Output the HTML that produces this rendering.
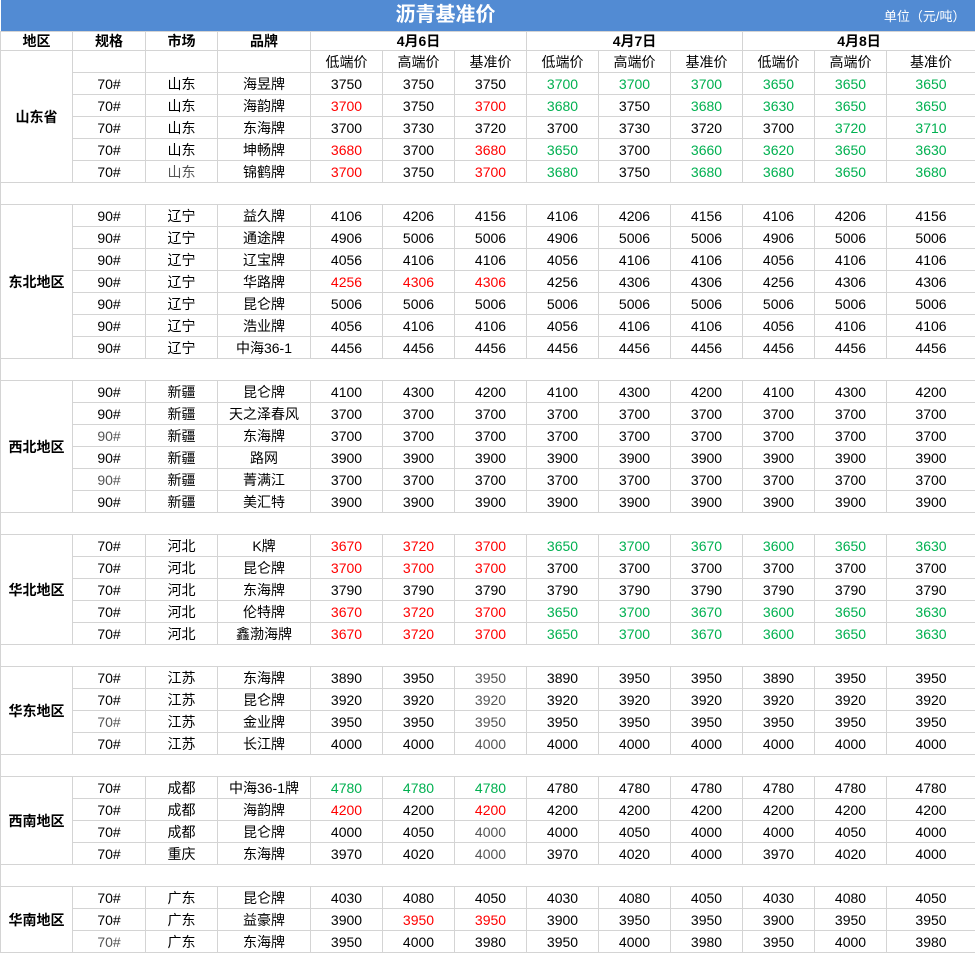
<!DOCTYPE html>
<html><head><meta charset="utf-8"><style>
body{margin:0;background:#fff;width:975px;height:953px;overflow:hidden}
table{border-collapse:collapse;table-layout:fixed;width:975px;font-family:"Liberation Sans","Microsoft YaHei","Noto Sans CJK SC",sans-serif;font-size:14px;color:#000}
td{border:1px solid #d4d4d4;text-align:center;padding:0;height:21px;line-height:20px;white-space:nowrap;overflow:hidden}
.t td{background:#528bd3;color:#fff;border:none;height:31px;position:relative}
.h td{font-weight:bold;height:18px;line-height:18px}
.b td{height:21px}
.reg{font-weight:bold}
.r{color:#ff0000}.g{color:#00b050}.m{color:#555}
</style></head><body>
<table>
<colgroup><col style="width:72px"><col style="width:73px"><col style="width:72px"><col style="width:93px"><col style="width:72px"><col style="width:72px"><col style="width:72px"><col style="width:72px"><col style="width:72px"><col style="width:72px"><col style="width:72px"><col style="width:72px"><col style="width:89px"></colgroup>
<tr class="t"><td colspan="13"><span style="position:absolute;left:0;width:890px;top:0;line-height:31px;font-size:20px;font-weight:bold;text-align:center">沥青基准价</span><span style="position:absolute;right:10px;top:0;line-height:34px;font-size:13px">单位（元/吨）</span></td></tr>
<tr class="h"><td>地区</td><td>规格</td><td>市场</td><td>品牌</td><td colspan="3">4月6日</td><td colspan="3">4月7日</td><td colspan="3">4月8日</td></tr>
<tr><td rowspan="6" class="reg">山东省</td><td></td><td></td><td></td><td>低端价</td><td>高端价</td><td>基准价</td><td>低端价</td><td>高端价</td><td>基准价</td><td>低端价</td><td>高端价</td><td>基准价</td></tr>
<tr><td>70#</td><td>山东</td><td>海昱牌</td><td>3750</td><td>3750</td><td>3750</td><td class="g">3700</td><td class="g">3700</td><td class="g">3700</td><td class="g">3650</td><td class="g">3650</td><td class="g">3650</td></tr>
<tr><td>70#</td><td>山东</td><td>海韵牌</td><td class="r">3700</td><td>3750</td><td class="r">3700</td><td class="g">3680</td><td>3750</td><td class="g">3680</td><td class="g">3630</td><td class="g">3650</td><td class="g">3650</td></tr>
<tr><td>70#</td><td>山东</td><td>东海牌</td><td>3700</td><td>3730</td><td>3720</td><td>3700</td><td>3730</td><td>3720</td><td>3700</td><td class="g">3720</td><td class="g">3710</td></tr>
<tr><td>70#</td><td>山东</td><td>坤畅牌</td><td class="r">3680</td><td>3700</td><td class="r">3680</td><td class="g">3650</td><td>3700</td><td class="g">3660</td><td class="g">3620</td><td class="g">3650</td><td class="g">3630</td></tr>
<tr><td>70#</td><td class="m">山东</td><td>锦鹤牌</td><td class="r">3700</td><td>3750</td><td class="r">3700</td><td class="g">3680</td><td>3750</td><td class="g">3680</td><td class="g">3680</td><td class="g">3650</td><td class="g">3680</td></tr>
<tr class="b"><td colspan="13"></td></tr>
<tr><td rowspan="7" class="reg">东北地区</td><td>90#</td><td>辽宁</td><td>益久牌</td><td>4106</td><td>4206</td><td>4156</td><td>4106</td><td>4206</td><td>4156</td><td>4106</td><td>4206</td><td>4156</td></tr>
<tr><td>90#</td><td>辽宁</td><td>通途牌</td><td>4906</td><td>5006</td><td>5006</td><td>4906</td><td>5006</td><td>5006</td><td>4906</td><td>5006</td><td>5006</td></tr>
<tr><td>90#</td><td>辽宁</td><td>辽宝牌</td><td>4056</td><td>4106</td><td>4106</td><td>4056</td><td>4106</td><td>4106</td><td>4056</td><td>4106</td><td>4106</td></tr>
<tr><td>90#</td><td>辽宁</td><td>华路牌</td><td class="r">4256</td><td class="r">4306</td><td class="r">4306</td><td>4256</td><td>4306</td><td>4306</td><td>4256</td><td>4306</td><td>4306</td></tr>
<tr><td>90#</td><td>辽宁</td><td>昆仑牌</td><td>5006</td><td>5006</td><td>5006</td><td>5006</td><td>5006</td><td>5006</td><td>5006</td><td>5006</td><td>5006</td></tr>
<tr><td>90#</td><td>辽宁</td><td>浩业牌</td><td>4056</td><td>4106</td><td>4106</td><td>4056</td><td>4106</td><td>4106</td><td>4056</td><td>4106</td><td>4106</td></tr>
<tr><td>90#</td><td>辽宁</td><td>中海36-1</td><td>4456</td><td>4456</td><td>4456</td><td>4456</td><td>4456</td><td>4456</td><td>4456</td><td>4456</td><td>4456</td></tr>
<tr class="b"><td colspan="13"></td></tr>
<tr><td rowspan="6" class="reg">西北地区</td><td>90#</td><td>新疆</td><td>昆仑牌</td><td>4100</td><td>4300</td><td>4200</td><td>4100</td><td>4300</td><td>4200</td><td>4100</td><td>4300</td><td>4200</td></tr>
<tr><td>90#</td><td>新疆</td><td>天之泽春风</td><td>3700</td><td>3700</td><td>3700</td><td>3700</td><td>3700</td><td>3700</td><td>3700</td><td>3700</td><td>3700</td></tr>
<tr><td class="m">90#</td><td>新疆</td><td>东海牌</td><td>3700</td><td>3700</td><td>3700</td><td>3700</td><td>3700</td><td>3700</td><td>3700</td><td>3700</td><td>3700</td></tr>
<tr><td>90#</td><td>新疆</td><td>路网</td><td>3900</td><td>3900</td><td>3900</td><td>3900</td><td>3900</td><td>3900</td><td>3900</td><td>3900</td><td>3900</td></tr>
<tr><td class="m">90#</td><td>新疆</td><td>菁满江</td><td>3700</td><td>3700</td><td>3700</td><td>3700</td><td>3700</td><td>3700</td><td>3700</td><td>3700</td><td>3700</td></tr>
<tr><td>90#</td><td>新疆</td><td>美汇特</td><td>3900</td><td>3900</td><td>3900</td><td>3900</td><td>3900</td><td>3900</td><td>3900</td><td>3900</td><td>3900</td></tr>
<tr class="b"><td colspan="13"></td></tr>
<tr><td rowspan="5" class="reg">华北地区</td><td>70#</td><td>河北</td><td>K牌</td><td class="r">3670</td><td class="r">3720</td><td class="r">3700</td><td class="g">3650</td><td class="g">3700</td><td class="g">3670</td><td class="g">3600</td><td class="g">3650</td><td class="g">3630</td></tr>
<tr><td>70#</td><td>河北</td><td>昆仑牌</td><td class="r">3700</td><td class="r">3700</td><td class="r">3700</td><td>3700</td><td>3700</td><td>3700</td><td>3700</td><td>3700</td><td>3700</td></tr>
<tr><td>70#</td><td>河北</td><td>东海牌</td><td>3790</td><td>3790</td><td>3790</td><td>3790</td><td>3790</td><td>3790</td><td>3790</td><td>3790</td><td>3790</td></tr>
<tr><td>70#</td><td>河北</td><td>伦特牌</td><td class="r">3670</td><td class="r">3720</td><td class="r">3700</td><td class="g">3650</td><td class="g">3700</td><td class="g">3670</td><td class="g">3600</td><td class="g">3650</td><td class="g">3630</td></tr>
<tr><td>70#</td><td>河北</td><td>鑫渤海牌</td><td class="r">3670</td><td class="r">3720</td><td class="r">3700</td><td class="g">3650</td><td class="g">3700</td><td class="g">3670</td><td class="g">3600</td><td class="g">3650</td><td class="g">3630</td></tr>
<tr class="b"><td colspan="13"></td></tr>
<tr><td rowspan="4" class="reg">华东地区</td><td>70#</td><td>江苏</td><td>东海牌</td><td>3890</td><td>3950</td><td class="m">3950</td><td>3890</td><td>3950</td><td>3950</td><td>3890</td><td>3950</td><td>3950</td></tr>
<tr><td>70#</td><td>江苏</td><td>昆仑牌</td><td>3920</td><td>3920</td><td class="m">3920</td><td>3920</td><td>3920</td><td>3920</td><td>3920</td><td>3920</td><td>3920</td></tr>
<tr><td class="m">70#</td><td>江苏</td><td>金业牌</td><td>3950</td><td>3950</td><td class="m">3950</td><td>3950</td><td>3950</td><td>3950</td><td>3950</td><td>3950</td><td>3950</td></tr>
<tr><td>70#</td><td>江苏</td><td>长江牌</td><td>4000</td><td>4000</td><td class="m">4000</td><td>4000</td><td>4000</td><td>4000</td><td>4000</td><td>4000</td><td>4000</td></tr>
<tr class="b"><td colspan="13"></td></tr>
<tr><td rowspan="4" class="reg">西南地区</td><td>70#</td><td>成都</td><td>中海36-1牌</td><td class="g">4780</td><td class="g">4780</td><td class="g">4780</td><td>4780</td><td>4780</td><td>4780</td><td>4780</td><td>4780</td><td>4780</td></tr>
<tr><td>70#</td><td>成都</td><td>海韵牌</td><td class="r">4200</td><td>4200</td><td class="r">4200</td><td>4200</td><td>4200</td><td>4200</td><td>4200</td><td>4200</td><td>4200</td></tr>
<tr><td>70#</td><td>成都</td><td>昆仑牌</td><td>4000</td><td>4050</td><td class="m">4000</td><td>4000</td><td>4050</td><td>4000</td><td>4000</td><td>4050</td><td>4000</td></tr>
<tr><td>70#</td><td>重庆</td><td>东海牌</td><td>3970</td><td>4020</td><td class="m">4000</td><td>3970</td><td>4020</td><td>4000</td><td>3970</td><td>4020</td><td>4000</td></tr>
<tr class="b"><td colspan="13"></td></tr>
<tr><td rowspan="3" class="reg">华南地区</td><td>70#</td><td>广东</td><td>昆仑牌</td><td>4030</td><td>4080</td><td>4050</td><td>4030</td><td>4080</td><td>4050</td><td>4030</td><td>4080</td><td>4050</td></tr>
<tr><td>70#</td><td>广东</td><td>益豪牌</td><td>3900</td><td class="r">3950</td><td class="r">3950</td><td>3900</td><td>3950</td><td>3950</td><td>3900</td><td>3950</td><td>3950</td></tr>
<tr><td class="m">70#</td><td>广东</td><td>东海牌</td><td>3950</td><td>4000</td><td>3980</td><td>3950</td><td>4000</td><td>3980</td><td>3950</td><td>4000</td><td>3980</td></tr>
</table>
</body></html>
